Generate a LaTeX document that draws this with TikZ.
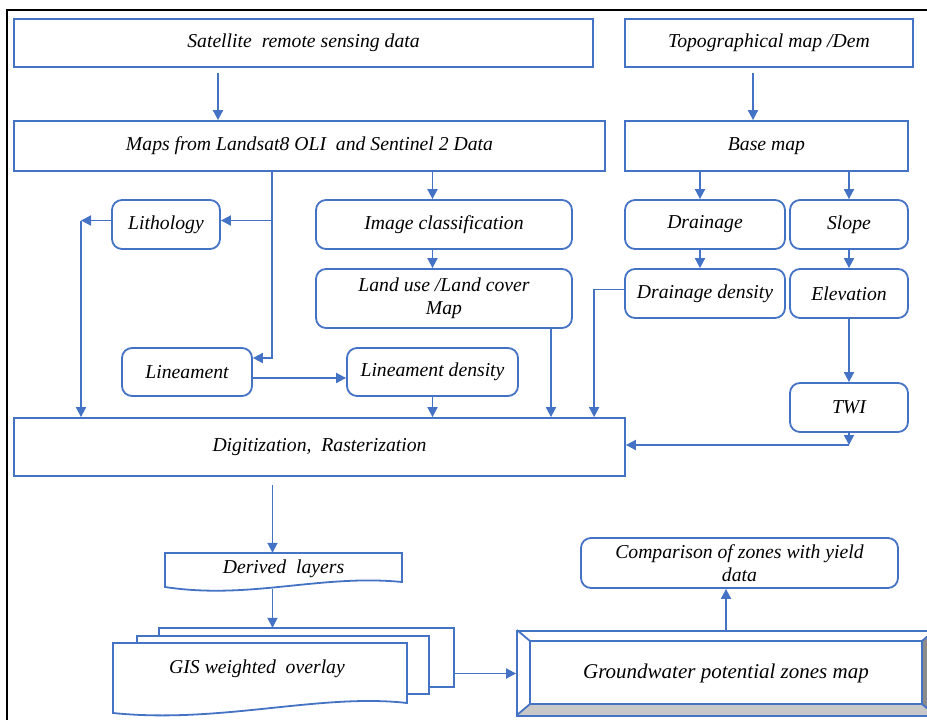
\documentclass[tikz,border=0pt]{standalone}
\usepackage{fontspec}
\setmainfont{Liberation Serif}
\usetikzlibrary{arrows.meta}
\definecolor{lineblue}{HTML}{4472C4}
\definecolor{bevelgrey}{HTML}{C8C8C8}
\definecolor{beveldark}{HTML}{8C8C8C}

\begin{document}
\begin{tikzpicture}
[x=1pt, y=-1pt,
 every node/.style={inner sep=0pt, font=\itshape\fontsize{19.7}{23.5}\selectfont},
 sqbox/.style={rectangle, draw=lineblue, line width=1.8pt},
 rdbox/.style={rectangle, rounded corners=10pt, draw=lineblue, line width=1.8pt},
 link/.style={line width=1.8pt, color=lineblue, -{Triangle[length=10pt,width=10pt]}},
 plain/.style={line width=1.8pt, color=lineblue}]
\useasboundingbox (0,0) rectangle (927,720);
\draw [line width=1.5pt, black] (7,725) -- (7,10) -- (935,10);
\node (sat) [sqbox, minimum width=579pt, minimum height=48pt] at (303.5, 43) {Satellite\ \ remote sensing data};
\node (topo) [sqbox, minimum width=288pt, minimum height=48pt] at (769, 43) {Topographical map /Dem};
\node (maps) [sqbox, minimum width=591pt, minimum height=50pt] at (309.5, 146) {Maps from Landsat8 OLI\ \ and Sentinel 2 Data};
\node (base) [sqbox, minimum width=283pt, minimum height=50pt] at (766.5, 146) {Base map};
\node (lith) [rdbox, minimum width=108pt, minimum height=49pt] at (166, 224.5) {Lithology};
\node (imgc) [rdbox, minimum width=256pt, minimum height=49pt] at (444, 224.5) {Image classification};
\node (drain) [rdbox, minimum width=160pt, minimum height=49pt] at (705, 224.5) {Drainage};
\node (slope) [rdbox, minimum width=118pt, minimum height=49pt] at (849, 224.5) {Slope};
\node (landuse) [rdbox, minimum width=256pt, minimum height=59pt, align=center] at (444, 298.5) {Land use /Land cover\\Map};
\node (dd) [rdbox, minimum width=160pt, minimum height=49pt] at (705, 293.5) {Drainage density};
\node (elev) [rdbox, minimum width=118pt, minimum height=49pt] at (849, 293.5) {Elevation};
\node (lin) [rdbox, minimum width=130pt, minimum height=48pt] at (187, 372) {Lineament};
\node (lind) [rdbox, minimum width=171pt, minimum height=48pt] at (432.5, 372) {Lineament density};
\node (twi) [rdbox, minimum width=118pt, minimum height=49pt] at (849, 407.5) {TWI};
\node (digit) [sqbox, minimum width=611pt, minimum height=58pt] at (319.5, 447) {Digitization,\ \ Rasterization};
% wavy sheets
\draw [plain, fill=white] (165,553) -- (402,553) -- (402,582) .. controls (320,574) and (250,600) .. (165,587) -- cycle;
\node (derived) [minimum width=237pt, minimum height=36pt] at (283.5, 571) {};
\node (dertext) at (283.5, 569) {Derived\ \ layers};
\draw [plain] (159,636) -- (159,628) -- (454,628) -- (454,687) -- (429,687);
\draw [plain] (137,643) -- (137,636) -- (429,636) -- (429,694) -- (407,694);
\draw [plain, fill=white] (113,643) -- (407,643) -- (407,703) .. controls (320,693) and (220,724) .. (113,713) -- cycle;
\node (gis) [minimum width=295pt, minimum height=59pt] at (306.5, 657.5) {};
\node (gistext) at (257, 669) {GIS weighted\ \ overlay};
% bevel
\fill [bevelgrey] (517,715) -- (530,704) -- (922,704) -- (935,715) -- cycle;
\fill [beveldark] (922,641) -- (935,630) -- (935,715) -- (922,704) -- cycle;
\draw [plain] (530,641) rectangle (922,704);
\draw [plain] (517,630) -- (530,641) (517,715) -- (530,704) (935,630) -- (922,641) (935,715) -- (922,704);
\node (gw) [sqbox, minimum width=418pt, minimum height=85pt, font=\itshape\fontsize{21}{25}\selectfont] at (726, 673.5) {Groundwater potential zones map};
\node (comp) [rdbox, minimum width=317pt, minimum height=50pt, align=center] at (739.5, 563) {Comparison of zones with yield\\data};
% links
\draw [link, shorten <=5pt] ([xshift=-85.5pt]sat.south) -- ([xshift=-85.5pt]sat.south |- maps.north);
\draw [link, shorten <=5pt] ([xshift=-16pt]topo.south) -- ([xshift=-16pt]topo.south |- base.north);
\draw [link] (lind.north |- maps.south) -- (lind.north |- imgc.north);
\draw [link] (lind.north |- imgc.south) -- (lind.north |- landuse.north);
\coordinate (trunk) at (272, 358);
\draw [link] (trunk |- maps.south) -- (trunk) -- (trunk -| lin.east);
\draw [link] ([yshift=4pt]trunk |- lith.east) -- ([yshift=4pt]lith.east);
\coordinate (lithbend) at (81, 220.5);
\draw [link] ([yshift=4pt]lith.west) -- (lithbend);
\draw [link] (lithbend) -- (lithbend |- digit.north);
\draw [link] ([yshift=-6pt]lin.east) -- ([yshift=-6pt]lin.east -| lind.west);
\draw [link] (lind.south) -- (lind.south |- digit.north);
\draw [link] ([xshift=107pt]landuse.south) -- ([xshift=107pt]landuse.south |- digit.north);
\draw [link] ([yshift=4pt]dd.west) -| ([xshift=-30pt]dd.west |- digit.north);
\draw [link] ([xshift=-5pt]drain.north |- base.south) -- ([xshift=-5pt]drain.north);
\draw [link] (slope.north |- base.south) -- (slope.north);
\draw [link] ([xshift=-5pt]drain.south) -- ([xshift=-5pt]dd.north);
\draw [link] (slope.south) -- (elev.north);
\draw [link] (elev.south) -- (twi.north);
\coordinate (twibend) at (849, 445);
\draw [link] (twi.south) -- (twibend);
\draw [link] (twibend) -- (twibend -| digit.east);
\draw [link, shorten <=8pt] ([xshift=-11pt]derived.north |- digit.south) -- ([xshift=-11pt]derived.north);
\draw [link] ([xshift=-11pt]derived.south) -- ([xshift=-11pt]derived.south |- gis.north);
\draw [link] (gw.west -| gis.east) -- (gw.west);
\draw [link] (gw.north) -- (gw.north |- comp.south);
\end{tikzpicture}
\end{document}
